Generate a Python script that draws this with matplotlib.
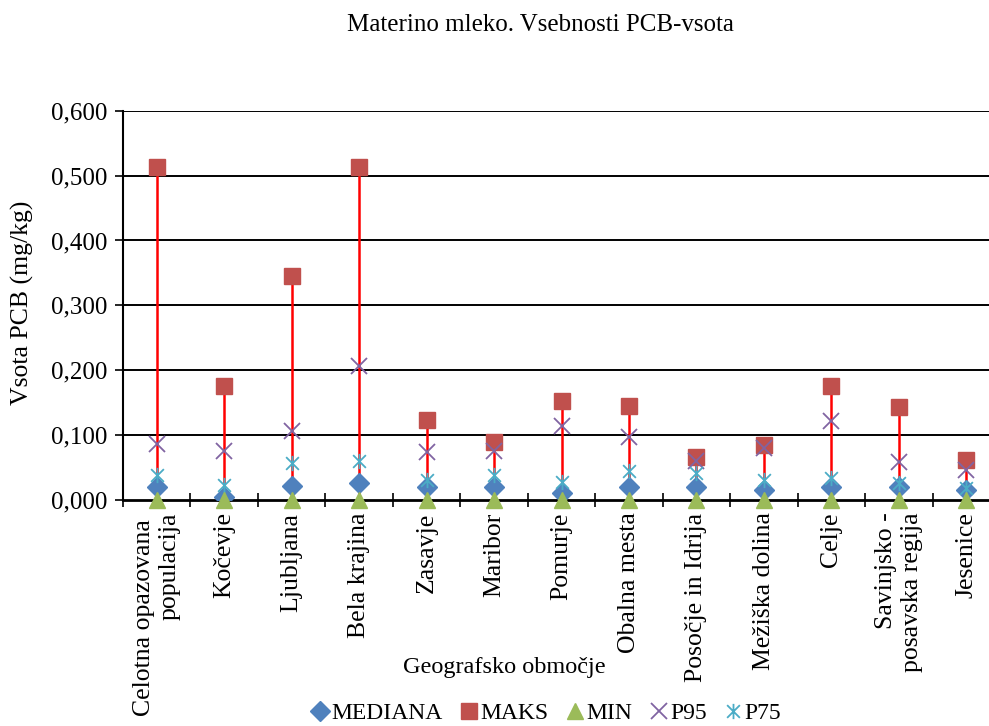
import numpy as np
import matplotlib
matplotlib.use("Agg")
import matplotlib.pyplot as plt
from matplotlib.path import Path
from matplotlib.ticker import FuncFormatter

plt.rcParams['font.family'] = ['Liberation Serif', 'DejaVu Serif']

regije = ["Celotna opazovana \npopulacija", "Kočevje", "Ljubljana", "Bela krajina",
          "Zasavje", "Maribor", "Pomurje", "Obalna mesta", "Posočje in Idrija",
          "Mežiška dolina", "Celje", "Savinjsko -\nposavska regija", "Jesenice"]

mediana = [0.020, 0.005, 0.022, 0.026, 0.020, 0.020, 0.011, 0.020, 0.020, 0.015, 0.020, 0.020, 0.015]
maks = [0.513, 0.175, 0.345, 0.513, 0.123, 0.089, 0.153, 0.145, 0.066, 0.084, 0.176, 0.143, 0.061]
mini = [0.0] * 13
p95 = [0.087, 0.075, 0.106, 0.207, 0.074, 0.076, 0.114, 0.097, 0.060, 0.080, 0.122, 0.059, 0.046]
p75 = [0.038, 0.023, 0.057, 0.060, 0.031, 0.038, 0.028, 0.044, 0.042, 0.031, 0.034, 0.026, 0.018]

x = np.arange(len(regije))

# asterisk marker like excel's star
zvezda = Path([(-1, -1), (1, 1), (-1, 1), (1, -1), (0, -1.2), (0, 1.2)],
              [Path.MOVETO, Path.LINETO, Path.MOVETO, Path.LINETO, Path.MOVETO, Path.LINETO])

fig = plt.figure(figsize=(9.89, 7.26), dpi=100)
ax = fig.add_axes([123 / 989, 1 - 500 / 726, 877 / 989, (500 - 110.7) / 726])

ax.vlines(x, mini, maks, color="#FF0000", lw=1.8, zorder=2)
ax.plot(x, mediana, ls="none", marker="D", ms=10, color="#4F81BD", label="MEDIANA", zorder=3)
ax.plot(x, maks, ls="none", marker="s", ms=11.5, color="#C0504D", label="MAKS", zorder=3)
ax.plot(x, mini, ls="none", marker="^", ms=12, color="#9BBB59", label="MIN", zorder=4,
        clip_on=False)
ax.plot(x, p95, ls="none", marker="x", ms=11, mew=1.3, color="#8064A2", label="P95", zorder=3)
ax.plot(x, p75, ls="none", marker=zvezda, ms=11, mew=1.3, color="#4BACC6", label="P75", zorder=3)

ax.set_xlim(-0.5, len(regije) - 0.5)
ax.set_ylim(0, 0.6)
ax.set_yticks(np.arange(0, 0.61, 0.1))
ax.yaxis.set_major_formatter(FuncFormatter(lambda v, p: ("%.3f" % v).replace(".", ",")))
for yy in np.arange(0.1, 0.61, 0.1):
    ax.axhline(yy, color="black", lw=1.4, zorder=1)

ax.set_xticks(x)
ax.set_xticklabels(regije, rotation=90, fontsize=18.5, va="top", ha="center", ma="right")
ax.tick_params(axis="x", which="major", length=0, pad=9)
ax.set_xticks(np.arange(-0.5, len(regije)), minor=True)
ax.tick_params(axis="x", which="minor", direction="inout", length=10, width=1.2)
ax.tick_params(axis="y", direction="out", length=6, width=1.2, labelsize=18, pad=5)

for s in ["top", "right"]:
    ax.spines[s].set_visible(False)
ax.spines["left"].set_linewidth(1.5)
ax.spines["bottom"].set_linewidth(2)

fig.text(22 / 989, 1 - 303 / 726, "Vsota PCB (mg/kg)", fontsize=18.5, rotation=90,
         ha="center", va="center")
fig.text(504 / 989, 1 - 668 / 726, "Geografsko območje", fontsize=17.5, ha="center", va="center")
fig.text(540 / 989, 1 - 25 / 726, "Materino mleko. Vsebnosti PCB-vsota", fontsize=18,
         ha="center", va="center")

fig.legend(loc="center", bbox_to_anchor=(546 / 989, 1 - 713 / 726), ncol=5, frameon=False,
           fontsize=17, handlelength=0.8, handletextpad=0.1, columnspacing=0.7,
           borderaxespad=0)

fig.savefig("out.png", dpi=100)
